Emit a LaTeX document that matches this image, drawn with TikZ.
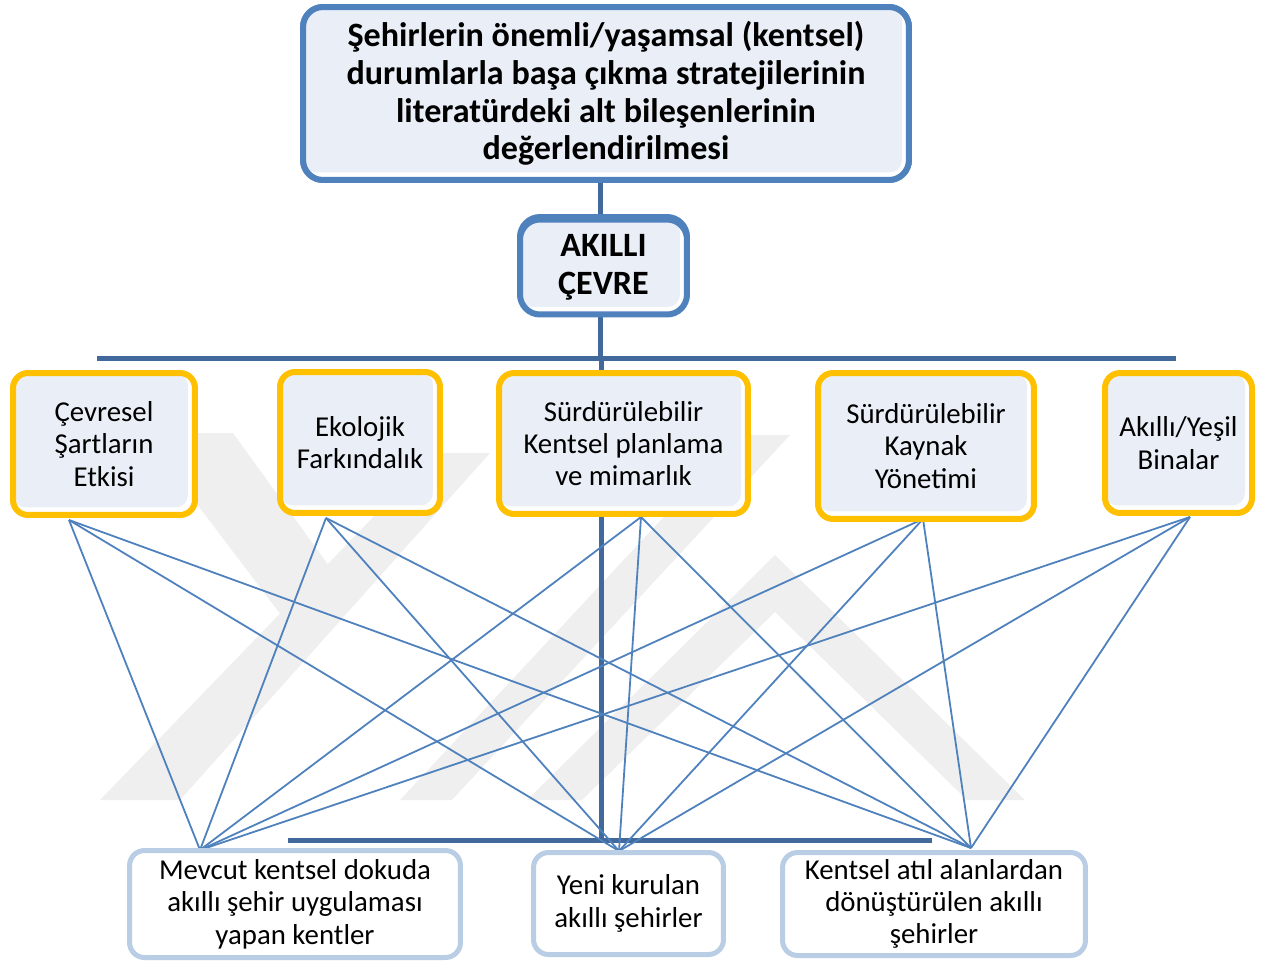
\documentclass[tikz,border=0pt]{standalone}
\usepackage{fontspec}
\setmainfont{Carlito}
\definecolor{bord}{HTML}{4F81BD}
\definecolor{lfill}{HTML}{EAEFF7}
\definecolor{ybord}{HTML}{FFC000}
\definecolor{bbord}{HTML}{B9CDE5}
\definecolor{barc}{HTML}{41699B}
\definecolor{linkc}{HTML}{4F81BD}
\definecolor{wm}{HTML}{EFEFEF}
\tikzset{
  bevelfill/.style={fill=white, path picture={\fill[lfill, rounded corners=0.25cm] (path picture bounding box.north west) rectangle ([shift={(-0.14cm,0.15cm)}]path picture bounding box.south east);}},
  topbox/.style={rounded corners=0.4cm, draw=bord, line width=0.12cm, bevelfill, align=center, inner sep=0pt, font=\fontsize{19.4}{21.5}\selectfont\bfseries},
  catbox/.style={rounded corners=0.3cm, draw=ybord, line width=0.12cm, bevelfill, align=center, inner sep=0pt, font=\fontsize{16.4}{18.4}\selectfont},
  citybox/.style={rounded corners=0.3cm, draw=bbord, line width=0.1cm, fill=white, align=center, inner sep=0pt, font=\fontsize{16.4}{18.4}\selectfont},
  bar/.style={draw=barc, line width=0.1cm},
  link/.style={draw=linkc, line width=0.036cm},
  wmark/.style={fill=wm}
}
\begin{document}
\begin{tikzpicture}[x=0.02cm,y=-0.02cm]
\useasboundingbox (0,0) rectangle (1270,963);
% watermark
\fill[wmark] (100,800) -- (180,800) -- (490,453) -- (435,453) -- cycle;
\fill[wmark] (143,433) -- (233,433) -- (350,595) -- (300,640) -- cycle;
\fill[wmark] (400,800) -- (452,800) -- (790,435) -- (740,435) -- cycle;
\fill[wmark] (527,800) -- (775,555) -- (1025,800) -- (967,800) -- (775,612) -- (582,800) -- cycle;
% coordinates
\coordinate (xmid) at (600,0);
\coordinate (tbL) at (97,358);
\coordinate (tbR) at (1176,358);
\coordinate (spT) at (601,358);
\coordinate (spB) at (601,840);
\coordinate (bbL) at (288,840);
\coordinate (bbR) at (932,840);
\coordinate (t1) at (69,520);
\coordinate (t2) at (326,518);
\coordinate (t3) at (641,517);
\coordinate (t4) at (923,519);
\coordinate (t5) at (1190,517);
\coordinate (u1) at (200,850);
\coordinate (u2) at (619,851);
\coordinate (u3) at (971,848);
% nodes placed first so connectors can refer to them
\path (606,93.5) node[topbox, minimum width=12.12cm, minimum height=3.46cm] (title) {};
\path (603.5,264.5) node[topbox, minimum width=3.34cm, minimum height=1.90cm] (akilli) {};
% bars
\draw[bar] (title.south -| xmid) -- (akilli.north -| xmid);
\draw[bar] (akilli.south -| xmid) -- (tbL -| xmid);
\draw[bar] (tbL) -- (tbR);
\draw[bar] (spT) -- (spB);
\draw[bar] (bbL) -- (bbR);
% links
\foreach \t in {t1,t2,t3,t4,t5}{
  \foreach \u in {u1,u2,u3}{
    \draw[link] (\t) -- (\u);
  }
}
% boxes
\node[topbox, minimum width=12.12cm, minimum height=3.46cm] (title) at (606,93.5)
  {Şehirlerin önemli/yaşamsal (kentsel)\\durumlarla başa çıkma stratejilerinin\\literatürdeki alt bileşenlerinin\\değerlendirilmesi};
\node[topbox, minimum width=3.34cm, minimum height=1.90cm] (akilli) at (603.5,267) {AKILLI\\ÇEVRE};
\node[catbox, minimum width=3.64cm, minimum height=2.84cm] (c1) at (104,444) {Çevresel\\Şartların\\Etkisi};
\node[catbox, minimum width=3.20cm, minimum height=2.82cm] (c2) at (360,442.5) {Ekolojik\\Farkındalık};
\node[catbox, minimum width=4.98cm, minimum height=2.82cm] (c3) at (623.5,443.5) {Sürdürülebilir\\Kentsel planlama\\ve mimarlık};
\node[catbox, minimum width=4.32cm, minimum height=2.92cm] (c4) at (926,446) {Sürdürülebilir\\Kaynak\\Yönetimi};
\node[catbox, minimum width=2.94cm, minimum height=2.80cm] (c5) at (1178.5,443) {Akıllı/Yeşil\\Binalar};
\node[citybox, minimum width=6.62cm, minimum height=2.14cm] (b1) at (295,904) {Mevcut kentsel dokuda\\akıllı şehir uygulaması\\yapan kentler};
\node[citybox, minimum width=3.80cm, minimum height=2.04cm] (b2) at (628.5,903.5) {Yeni kurulan\\akıllı şehirler};
\node[citybox, minimum width=6.06cm, minimum height=2.06cm] (b3) at (934,904) {Kentsel atıl alanlardan\\dönüştürülen akıllı\\şehirler};
\end{tikzpicture}
\end{document}
